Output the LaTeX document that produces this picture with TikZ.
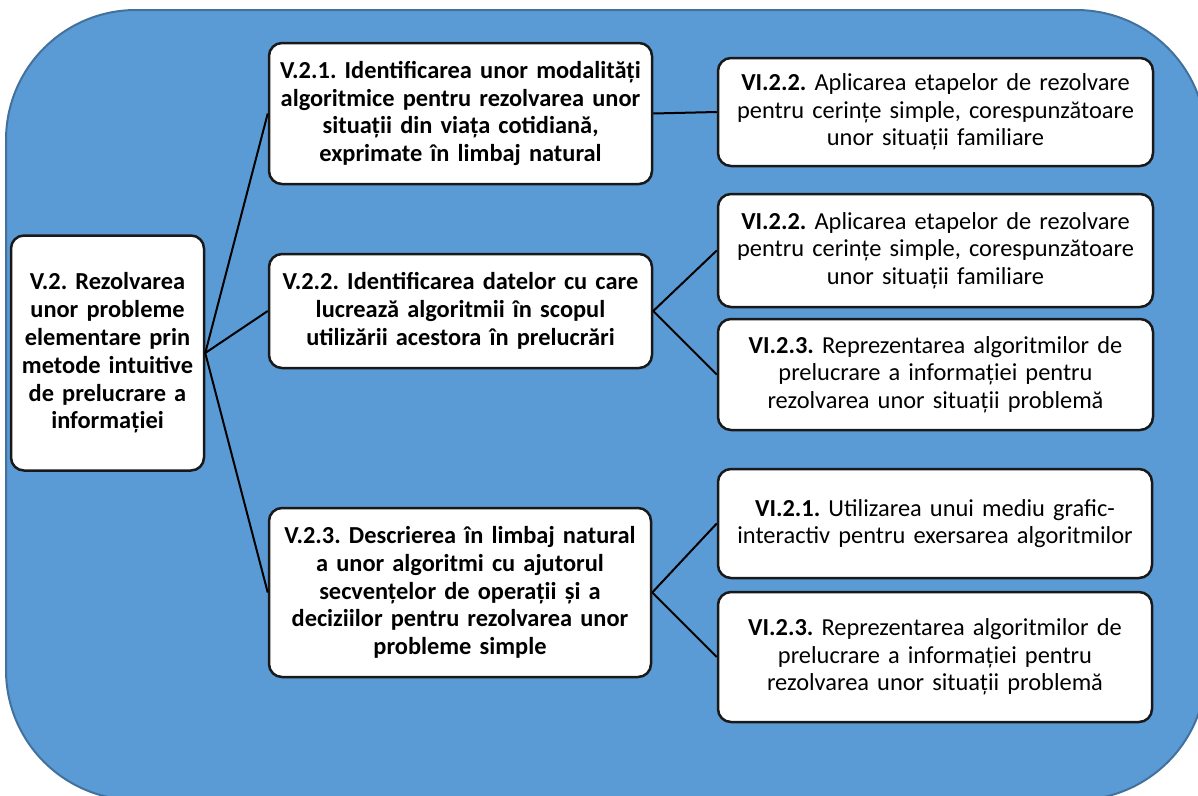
\documentclass[tikz,border=0pt]{standalone}
\usepackage{fontspec}
\setmainfont{Carlito}
\definecolor{panelfill}{HTML}{5B9BD5}
\definecolor{panelline}{HTML}{41719C}
\frenchspacing
\begin{document}
\begin{tikzpicture}[x=1pt, y=-1pt,
        box/.style={draw=black!90, line width=2.5pt, fill=white, rounded corners=13pt,
            align=center, inner sep=0pt, font=\fontsize{24.4}{27.6}\selectfont},
        boldbox/.style={box, font=\bfseries\fontsize{24.4}{27.8}\selectfont},
        link/.style={draw=black, line width=2pt}]
        \useasboundingbox (0, 0) rectangle (1198, 795);
        \begin{scope}
            \clip (0, 0) rectangle (1198, 795);
            \draw[fill=panelfill, draw=panelline, line width=2pt, rounded corners=130pt] (6, 10) rectangle (1206, 800);
        \end{scope}
        \node[boldbox, minimum width=193, minimum height=235, text width=189] (root) at (107.5, 353)
            {V.2. Rezolvarea\\unor probleme\\elementare prin\\metode intuitive\\de prelucrare a\\informației};
        \node[boldbox, minimum width=383, minimum height=141, text width=379] (v21) at (460.5, 113.5)
            {V.2.1. Identificarea unor modalități\\algoritmice pentru rezolvarea unor\\situații din viața cotidiană,\\exprimate în limbaj natural};
        \node[boldbox, minimum width=383, minimum height=114, text width=379] (v22) at (460.5, 311)
            {V.2.2. Identificarea datelor cu care\\lucrează algoritmii în scopul\\utilizării acestora în prelucrări};
        \node[boldbox, minimum width=382, minimum height=169, text width=378] (v23) at (460, 592.5)
            {V.2.3. Descrierea în limbaj natural\\a unor algoritmi cu ajutorul\\secvențelor de operații și a\\deciziilor pentru rezolvarea unor\\probleme simple};
        \node[box, minimum width=435, minimum height=108, text width=429] (vi22a) at (935.5, 112)
            {\textbf{VI.2.2.} Aplicarea etapelor de rezolvare\\pentru cerințe simple, corespunzătoare\\unor situații familiare};
        \node[box, minimum width=435, minimum height=113, text width=429] (vi22b) at (935.5, 250.5)
            {\textbf{VI.2.2.} Aplicarea etapelor de rezolvare\\pentru cerințe simple, corespunzătoare\\unor situații familiare};
        \node[box, minimum width=435, minimum height=111, text width=429] (vi23a) at (935.5, 374.5)
            {\textbf{VI.2.3.} Reprezentarea algoritmilor de\\prelucrare a informației pentru\\rezolvarea unor situații problemă};
        \node[box, minimum width=434, minimum height=109, text width=428] (vi21) at (935, 523.5)
            {\textbf{VI.2.1.} Utilizarea unui mediu grafic-\\interactiv pentru exersarea algoritmilor};
        \node[box, minimum width=434, minimum height=130, text width=428] (vi23b) at (935, 657)
            {\textbf{VI.2.3.} Reprezentarea algoritmilor de\\prelucrare a informației pentru\\rezolvarea unor situații problemă};
        \draw[link] (root.east) -- (v21.west);
        \draw[link] (root.east) -- (v22.west);
        \draw[link] (root.east) -- (v23.west);
        \draw[link] (v21.east) -- (vi22a.west);
        \draw[link] (v22.east) -- (vi22b.west);
        \draw[link] (v22.east) -- (vi23a.west);
        \draw[link] (v23.east) -- (vi21.west);
        \draw[link] (v23.east) -- (vi23b.west);
    \end{tikzpicture}
\end{document}
